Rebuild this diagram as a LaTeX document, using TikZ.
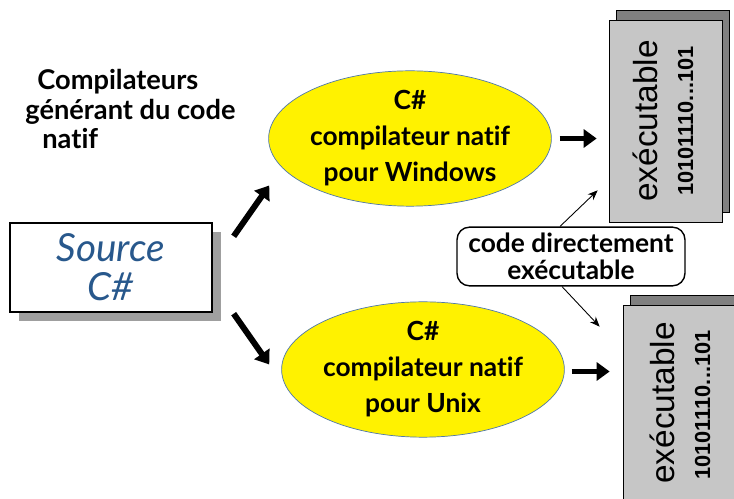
\documentclass[tikz,border=0pt]{standalone}
\usepackage{fontspec}
\setmainfont{Lato}[Ligatures=CommonOff]
\newfontfamily\arialfont{Liberation Sans}
\usetikzlibrary{shapes.geometric,arrows.meta,calc,shadows,positioning}
\definecolor{srcblue}{RGB}{40,88,140}
\definecolor{rimblue}{RGB}{80,120,170}
\tikzset{
  bigarrow/.style={line width=3.4pt,-{Triangle[length=0.26cm,width=0.36cm]}},
  thinarrow/.style={line width=0.5pt,-{Stealth[length=2mm,width=1.6mm]}},
  lbl/.style={inner sep=0pt,anchor=west,font=\fontsize{15.5}{17}\selectfont\bfseries},
  srcbox/.style={draw,line width=0.8pt,fill=white,minimum width=4.04cm,minimum height=1.78cm,
    align=center,text=srcblue,font=\fontsize{22}{22}\selectfont\itshape,
    drop shadow={shadow xshift=0.18cm,shadow yshift=-0.18cm,fill=gray!75,opacity=1}},
  compil/.style={ellipse,draw=rimblue,thin,fill=yellow,minimum width=4.9cm,minimum height=2.54cm,
    inner sep=0pt,align=center,font=\fontsize{15}{20.5}\selectfont\bfseries},
  exebox/.style={draw,fill=gray!45,minimum width=2.26cm,minimum height=4.04cm,inner sep=0pt,
    copy shadow={shadow xshift=0.15cm,shadow yshift=0.2cm,fill=gray,draw=black}},
  exetxt/.style={rotate=90,inner sep=0pt,font=\arialfont\fontsize{19}{21}\selectfont},
  exebin/.style={rotate=90,inner sep=0pt,font=\arialfont\bfseries\fontsize{12.4}{14}\selectfont},
  note/.style={draw,line width=0.8pt,rounded corners=2.5mm,fill=white,minimum width=4.56cm,
    minimum height=1.14cm,align=center,font=\fontsize{15}{15.5}\selectfont\bfseries}
}
\begin{document}
\begin{tikzpicture}[x=0.02cm,y=-0.02cm]
\useasboundingbox (0,0) rectangle (734,499);
\clip (0,0) rectangle (734,499);

% titre
\node[lbl] (lblA) at (37,82) {Compilateurs};
\node[lbl] (lblB) at (25,112) {générant du code};
\node[lbl] (lblC) at (42,139) {natif};

% source et compilateurs
\node[srcbox] (src) at (111,267.5) {Source\\C\#};
\node[compil] (win) at (410,138.5) {C\#\\compilateur natif\\pour Windows};
\node[compil] (unix) at (423,369.5) {C\#\\compilateur natif\\pour Unix};

% executables
\node[exebox] (exewin) at (665.5,121) {};
\node[exetxt] (exewinA) at ($(exewin)+(-20,0)$) {exécutable};
\node[exebin] (exewinB) at ($(exewin)+(20,0)$) {10101110...101};
\node[exebox] (exeunix) at (679.5,406) {};
\node[exetxt] (exeunixA) at ($(exeunix)+(-17,-3)$) {exécutable};
\node[exebin] (exeunixB) at ($(exeunix)+(23,-1)$) {10101110...101};

\node[note] (direct) at (571,256.5) {code directement\\exécutable};

% fleches
\draw[bigarrow] ($(src.north east)+(21,14)$) -- ($(win.west)+(1,47)$);
\draw[bigarrow] ($(src.south east)+(21,1)$) -- ($(unix.west)+(-12,-5)$);
\draw[bigarrow,shorten <=0.16cm,shorten >=0.24cm] (win.east) -- (win.east -| exewin.west);
\draw[bigarrow,shorten <=0.14cm,shorten >=0.26cm] ($(unix.east)+(0,2)$) -- ($(unix.east -| exeunix.west)+(0,2)$);
\draw[thinarrow] ($(direct.north)+(-11,0)$) -- ($(exewin.south west)+(-11,-32)$);
\draw[thinarrow] ($(direct.south)+(-9,0)$) -- ($(exeunix.north west)+(-23,22)$);
\end{tikzpicture}
\end{document}
